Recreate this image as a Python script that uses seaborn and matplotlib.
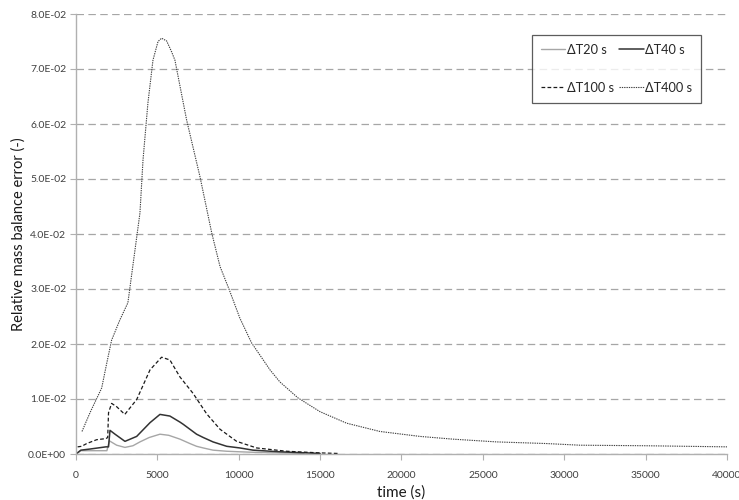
import matplotlib
matplotlib.use("Agg")
import matplotlib.pyplot as plt
from matplotlib.ticker import FuncFormatter, MultipleLocator
import seaborn as sns
import pandas as pd

# Relative mass balance error over time for four time-step sizes
t_20 = [0, 300, 1000, 1900, 2050, 2500, 3010, 3500, 3930, 4500, 5160, 5700, 6390, 7000,
        7410, 7820, 8420, 9260, 10070, 11000, 12530, 14000]
e_20 = [0.0, 0.0006, 0.0006, 0.0006, 0.0024, 0.0016, 0.0012, 0.0015, 0.0022, 0.0030, 0.0036,
        0.0034, 0.0027, 0.0019, 0.0014, 0.0011, 0.0007, 0.0005, 0.0004, 0.0003, 0.0002, 0.0001]

t_40 = [0, 300, 860, 1840, 2000, 2090, 2400, 3010, 3730, 4550, 5160, 5770, 6390, 6590,
        7410, 7820, 8420, 9260, 10070, 10870, 12530, 14170, 15000]
e_40 = [0.0, 0.0007, 0.0009, 0.0013, 0.0013, 0.0043, 0.0036, 0.0023, 0.0032, 0.0057, 0.0072,
        0.0069, 0.0058, 0.0054, 0.0036, 0.0030, 0.0022, 0.0014, 0.0011, 0.0007, 0.0004,
        0.0002, 0.0001]

t_100 = [100, 350, 660, 1270, 1840, 1950, 2000, 2190, 2500, 3000, 3730, 4550, 5260, 5770,
         6390, 7200, 8030, 8850, 9870, 11100, 12940, 14990, 16090]
e_100 = [0.0013, 0.0014, 0.0019, 0.0026, 0.0028, 0.0030, 0.0075, 0.0092, 0.0086, 0.0072,
         0.0099, 0.0153, 0.0176, 0.0171, 0.0140, 0.0110, 0.0073, 0.0045, 0.0023, 0.0011,
         0.0005, 0.0002, 0.0001]

t_400 = [370, 860, 1580, 1890, 2190, 2700, 3190, 3930, 4120, 4420, 4730, 5040, 5260, 5570,
         5880, 6080, 6800, 7620, 8340, 8850, 9400, 10070, 10790, 11920, 12530, 13640, 14990,
         16630, 18670, 21130, 23160, 25840, 28910, 30960, 35000, 40000]
e_400 = [0.0041, 0.0075, 0.0120, 0.0165, 0.0207, 0.0244, 0.0275, 0.0438, 0.0535, 0.0638,
         0.0716, 0.0750, 0.0756, 0.0751, 0.0731, 0.0716, 0.0607, 0.0504, 0.0402, 0.0341,
         0.0300, 0.0247, 0.0202, 0.0153, 0.0131, 0.0102, 0.0077, 0.0056, 0.0041, 0.0032,
         0.0027, 0.0022, 0.0019, 0.0016, 0.0015, 0.0013]

labels = ["\u0394T20 s", "\u0394T40 s", "\u0394T100 s", "\u0394T400 s"]
x_ticks = [0, 5000, 10000, 15000, 20000, 25000, 30000, 35000, 40000]

sns.set_theme(style="white")
plt.rcParams["font.family"] = ["Lato", "DejaVu Sans"]

fig = plt.figure(figsize=(7.39, 5.00), dpi=100)
ax = fig.add_axes([0.1028, 0.092, 0.8810, 0.880])

series = [
    (t_20, e_20, labels[0], "#a6a6a6", 1.0, None),
    (t_40, e_40, labels[1], "#333333", 1.1, None),
    (t_100, e_100, labels[2], "#1a1a1a", 0.9, (3.0, 1.8)),
    (t_400, e_400, labels[3], "#404040", 0.8, (1.2, 0.9)),
]
handles = {}
for t, e, lab, col, lw, dash in series:
    df = pd.DataFrame({"time": t, "err": e})
    sns.lineplot(data=df, x="time", y="err", ax=ax, color=col, linewidth=lw,
                 label=lab, sort=False, estimator=None)
    line = ax.lines[-1]
    if dash is not None:
        line.set_dashes(dash)
    handles[lab] = line

ax.set_xlim(0, 40000)
ax.set_ylim(0, 0.08)
ax.set_xticks(x_ticks)
ax.yaxis.set_major_locator(MultipleLocator(0.01))
ax.yaxis.set_major_formatter(FuncFormatter(lambda v, p: f"{v:.1E}"))
ax.xaxis.set_major_formatter(FuncFormatter(lambda v, p: f"{int(round(v))}"))

ax.grid(axis="y", color="#a6a6a6", linestyle=(0, (6, 3.5)), linewidth=0.9)
ax.grid(axis="x", visible=False)
ax.set_axisbelow(True)

for s in ["top", "right"]:
    ax.spines[s].set_visible(False)
for s in ["left", "bottom"]:
    ax.spines[s].set_color("#b0b0b0")
    ax.spines[s].set_linewidth(1.0)

ax.tick_params(axis="both", which="major", direction="out", length=4, width=0.8,
               color="#b0b0b0", labelsize=7.5, labelcolor="#404040",
               bottom=True, left=True)
ax.tick_params(axis="x", pad=8)
ax.tick_params(axis="y", pad=3)

ax.set_xlabel("time (s)", fontsize=11, color="#1a1a1a", labelpad=4)
ax.set_ylabel("Relative mass balance error (-)", fontsize=10.5, color="#1a1a1a", labelpad=2)

# two columns, filled column-wise: 20/100 left, 40/400 right
order = [labels[0], labels[2], labels[1], labels[3]]
leg = ax.legend([handles[k] for k in order], order, loc="upper left",
                bbox_to_anchor=(0.7005, 0.953), ncol=2, frameon=True,
                fancybox=False, edgecolor="#333333", fontsize=9.2, handlelength=1.9,
                handletextpad=0.15, columnspacing=0.4, labelspacing=2.05,
                borderpad=0.7, borderaxespad=0.0)
leg.get_frame().set_linewidth(0.9)

fig.savefig("out.png", dpi=100)
